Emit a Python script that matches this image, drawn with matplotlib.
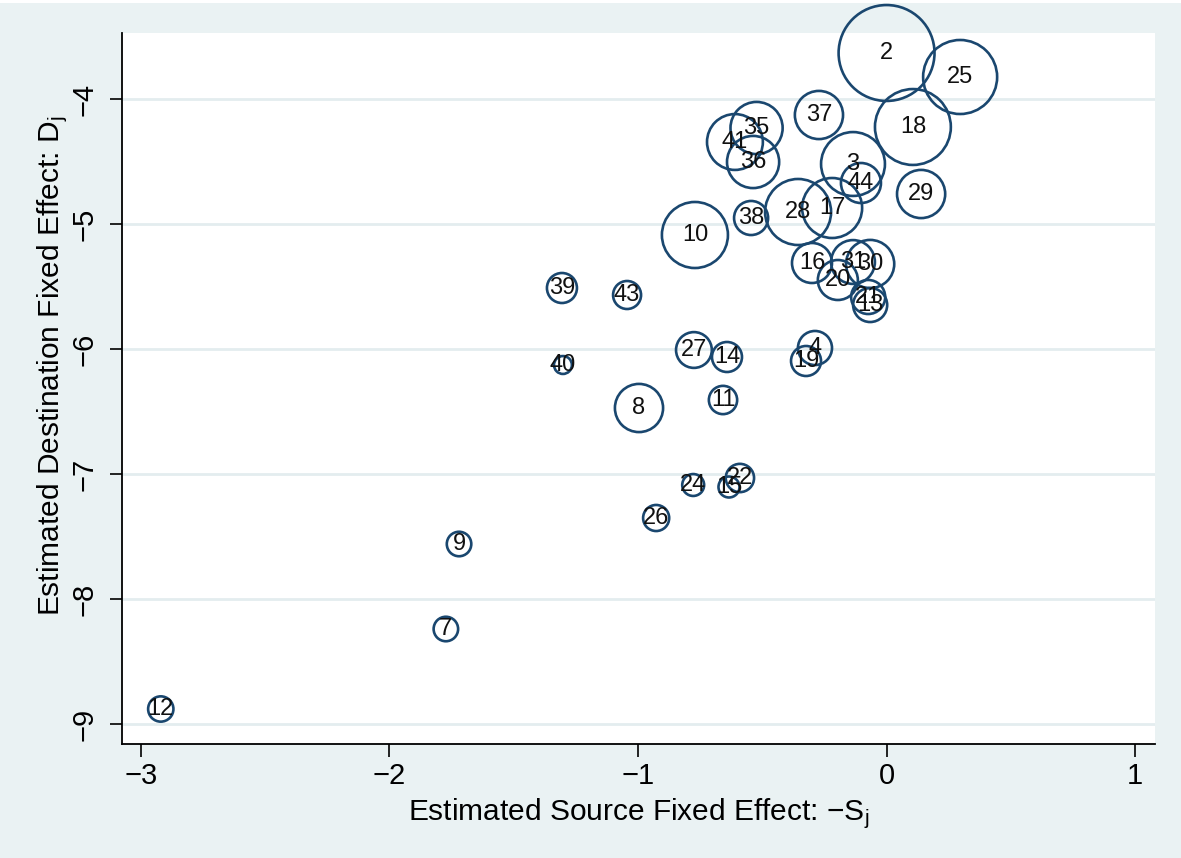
import matplotlib
matplotlib.use('Agg')
import matplotlib.pyplot as plt
import numpy as np

# region id, source effect (-S_j), destination effect (D_j), bubble weight
ids = ['2', '25', '18', '37', '35', '41', '36', '3', '44', '29',
       '28', '17', '38', '10', '16', '31', '30', '20', '21', '13',
       '39', '43', '27', '14', '4', '19', '40', '11', '8', '24',
       '15', '22', '26', '9', '7', '12']
src = [0.00, 0.296, 0.106, -0.272, -0.523, -0.610, -0.537, -0.135, -0.103, 0.139,
       -0.356, -0.219, -0.545, -0.771, -0.300, -0.135, -0.066, -0.196, -0.074, -0.066,
       -1.306, -1.044, -0.775, -0.642, -0.288, -0.324, -1.302, -0.658, -0.996, -0.778,
       -0.634, -0.590, -0.927, -1.720, -1.773, -2.920]
dst = [-3.632, -3.824, -4.224, -4.128, -4.232, -4.344, -4.504, -4.520, -4.672, -4.760,
       -4.904, -4.872, -4.952, -5.088, -5.312, -5.304, -5.320, -5.448, -5.584, -5.648,
       -5.512, -5.568, -6.008, -6.064, -5.992, -6.096, -6.128, -6.408, -6.472, -7.088,
       -7.104, -7.032, -7.352, -7.560, -8.240, -8.880]
weight = [23.0, 13.7, 14.4, 5.8, 6.8, 7.8, 6.8, 10.2, 4.0, 5.8,
          10.9, 9.0, 2.9, 10.9, 4.0, 4.8, 5.8, 4.0, 2.9, 2.9,
          2.25, 1.96, 3.2, 2.25, 2.9, 2.25, 0.8, 2.0, 5.8, 1.2,
          1.1, 2.0, 1.7, 1.5, 1.5, 1.6]

xticks = [-3, -2, -1, 0, 1]
yticks = [-9, -8, -7, -6, -5, -4]

bg = '#EAF2F3'
navy = '#1A476F'

plt.rcParams['font.family'] = ['Liberation Sans', 'DejaVu Sans']
plt.rcParams['mathtext.fontset'] = 'custom'
plt.rcParams['mathtext.rm'] = 'Liberation Sans'
plt.rcParams['mathtext.it'] = 'Liberation Sans'

fig = plt.figure(figsize=(11.81, 8.58), dpi=100, facecolor=bg)
# thin white band along the top edge
fig.patches.append(plt.Rectangle((0, 1 - 3 / 858), 1, 3 / 858, transform=fig.transFigure,
                                 facecolor='white', edgecolor='none'))
ax = fig.add_axes([122 / 1181, 1 - 744 / 858, 1033 / 1181, 711 / 858])
ax.set_facecolor('white')

# bubble area proportional to weight
sizes = 207.36 * np.array(weight)
ax.scatter(src, dst, s=sizes, facecolors='none', edgecolors=navy,
           linewidths=1.9, clip_on=False, zorder=3)
for lab, x, y in zip(ids, src, dst):
    ax.text(x, y, lab, ha='center', va='center', fontsize=17, color='#111111',
            zorder=4, clip_on=False)

ax.set_xlim(-3.076, 1.08)
ax.set_ylim(-9.16, -3.472)
ax.set_xticks(xticks)
ax.set_yticks(yticks)
ax.set_xticklabels([str(t).replace('-', '\u2212') for t in xticks])
ax.set_yticklabels([str(t).replace('-', '\u2212') for t in yticks],
                   rotation=90, va='center')
ax.tick_params(axis='both', length=9, width=1.2, labelsize=21, color='black')
ax.tick_params(axis='x', pad=4)
ax.tick_params(axis='y', pad=8)

ax.grid(True, axis='y', color='#E3EDEF', linewidth=2)
ax.set_axisbelow(True)

for side in ['top', 'right']:
    ax.spines[side].set_visible(False)
for side in ['left', 'bottom']:
    ax.spines[side].set_linewidth(1.3)
    ax.spines[side].set_color('black')

ax.set_xlabel('Estimated Source Fixed Effect: \u2212S$_{\\rm j}$', fontsize=21.5)
ax.set_ylabel('Estimated Destination Fixed Effect: D$_{\\rm j}$', fontsize=21.5)
ax.xaxis.set_label_coords(0.5, -0.073)
ax.yaxis.set_label_coords(-0.050, 0.532)

plt.savefig('out.png', dpi=100, facecolor=bg)
plt.close()
